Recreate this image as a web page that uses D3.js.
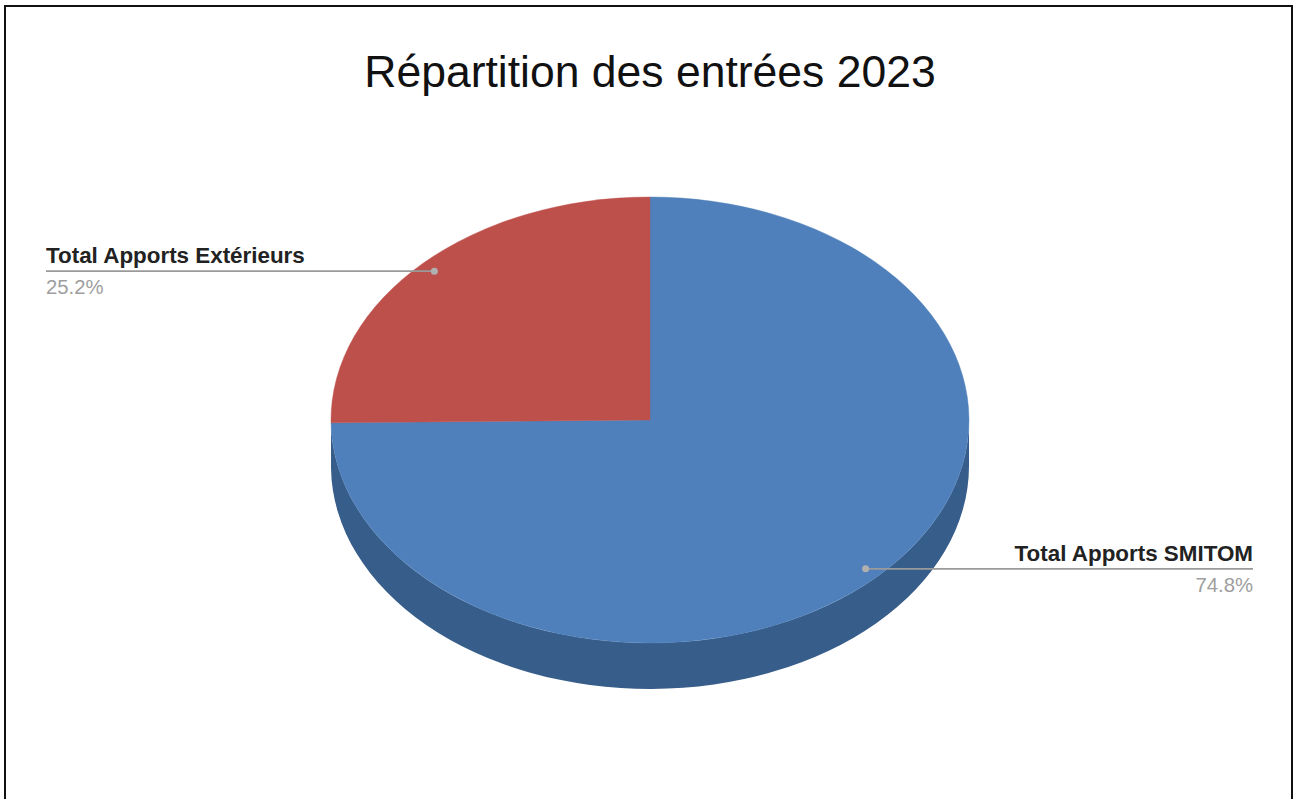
<!DOCTYPE html>
<html>
<head>
<meta charset="utf-8">
<script src="https://cdn.jsdelivr.net/npm/d3@7/dist/d3.min.js"></script>
<style>
  html, body { margin: 0; padding: 0; background: #fff; }
  svg { display: block; }
</style>
</head>
<body>
<svg id="chart" width="1296" height="799"></svg>
<script>
const title = "Répartition des entrées 2023";
const categories = ["Total Apports SMITOM", "Total Apports Extérieurs"];
const values = [74.8, 25.2];
const topColors = ["#4f80bb", "#be504c"];
const sideColors = ["#375d8a", "#8c3a38"];

const W = 1296, H = 799;
const cx = 650, cy = 420, rx = 319, ry = 223, depth = 46;

const svg = d3.select("#chart");

svg.append("rect")
  .attr("x", 5).attr("y", 6).attr("width", 1287).attr("height", 820)
  .attr("fill", "#fff").attr("stroke", "#111").attr("stroke-width", 2);

svg.append("text")
  .attr("x", cx).attr("y", 87)
  .attr("text-anchor", "middle")
  .attr("font-family", "Liberation Sans, Arial, sans-serif")
  .attr("font-size", 44.5)
  .attr("fill", "#111")
  .text(title);

const data = categories.map((c, i) => ({ name: c, value: values[i], top: topColors[i], side: sideColors[i] }));
const pie = d3.pie().sort(null).value(d => d.value);
const arcs = pie(data);
const total = d3.sum(values);
const fmt = d3.format(".1%");

const px = (a) => cx + rx * Math.sin(a);
const py = (a, dy = 0) => cy - ry * Math.cos(a) + dy;

// side walls (front half only: angles between PI/2 and 3PI/2)
const g = svg.append("g");
arcs.forEach(d => {
  const a0 = Math.max(d.startAngle, Math.PI / 2);
  const a1 = Math.min(d.endAngle, 3 * Math.PI / 2);
  if (a1 <= a0) return;
  const large = (a1 - a0) > Math.PI ? 1 : 0;
  const p = `M${px(a0)},${py(a0)}` +
    `A${rx},${ry} 0 ${large} 1 ${px(a1)},${py(a1)}` +
    `L${px(a1)},${py(a1, depth)}` +
    `A${rx},${ry} 0 ${large} 0 ${px(a0)},${py(a0, depth)}Z`;
  g.append("path").attr("d", p).attr("fill", d.data.side);
});

// top faces via d3.arc scaled into an ellipse
const arc = d3.arc().innerRadius(0).outerRadius(rx);
svg.append("g")
  .attr("transform", `translate(${cx},${cy}) scale(1,${ry / rx})`)
  .selectAll("path")
  .data(arcs)
  .join("path")
  .attr("d", arc)
  .attr("fill", d => d.data.top)
  .attr("stroke", d => d.data.top)
  .attr("stroke-width", 0.5);

// labels with leader lines
const labelFont = "Liberation Sans, Arial, sans-serif";
arcs.forEach(d => {
  const mid = (d.startAngle + d.endAngle) / 2;
  const dx = cx + 0.95 * rx * Math.sin(mid);
  const dy = cy - 0.95 * ry * Math.cos(mid);
  const right = Math.sin(mid) > 0;
  const lx = right ? 1253 : 46;
  svg.append("line")
    .attr("x1", dx).attr("y1", dy).attr("x2", lx).attr("y2", dy)
    .attr("stroke", "#9a9a9a").attr("stroke-width", 1.6);
  svg.append("circle")
    .attr("cx", dx).attr("cy", dy).attr("r", 3.5)
    .attr("fill", "#b0b0b0");
  svg.append("text")
    .attr("x", lx).attr("y", dy - 8)
    .attr("text-anchor", right ? "end" : "start")
    .attr("font-family", labelFont).attr("font-weight", "bold")
    .attr("font-size", 22.4).attr("fill", "#222")
    .text(d.data.name);
  svg.append("text")
    .attr("x", lx).attr("y", dy + 23)
    .attr("text-anchor", right ? "end" : "start")
    .attr("font-family", labelFont)
    .attr("font-size", 20.3).attr("fill", "#9e9e9e")
    .text(fmt(d.data.value / total));
});
</script>
</body>
</html>
